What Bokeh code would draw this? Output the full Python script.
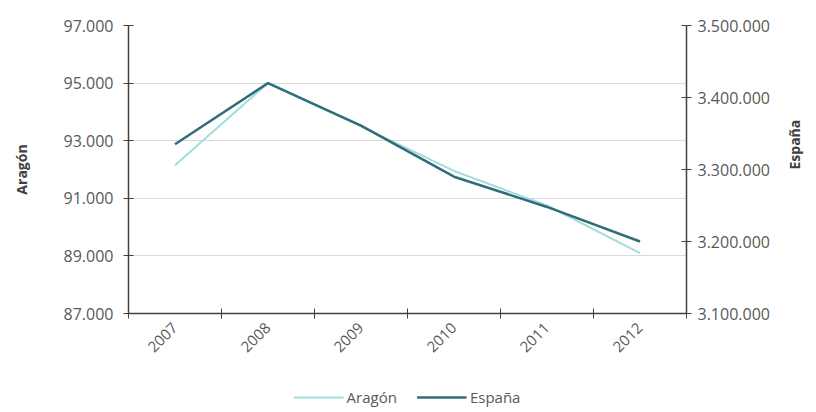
from math import pi
from bokeh.plotting import figure
from bokeh.layouts import column
from bokeh.models import Range1d, LinearAxis, FixedTicker, Legend, LegendItem
from bokeh.embed import file_html
from bokeh.resources import INLINE

years = ["2007", "2008", "2009", "2010", "2011", "2012"]
aragon = [92150, 95000, 93500, 91950, 90750, 89100]
espana = [3335000, 3420000, 3361000, 3290000, 3248000, 3200000]
left_ticks = [87000, 89000, 91000, 93000, 95000, 97000]
right_ticks = [3100000, 3200000, 3300000, 3400000, 3500000]
series_names = ["Aragón", "España"]

FONT = "Open Sans"
TXT = "#595959"
AX = "#404040"
C_AR = "#a3dcdc"
C_ES = "#2f6e78"


def es(n):
    return f"{n:,}".replace(",", ".")


xs = [i + 0.5 for i in range(len(years))]

p = figure(width=816, height=382, output_backend="svg", toolbar_location=None,
           x_range=Range1d(0, len(years)), y_range=Range1d(left_ticks[0], left_ticks[-1]),
           min_border_left=128, min_border_right=130, min_border_top=25, min_border_bottom=69,
           outline_line_color=None, background_fill_color="white", border_fill_color="white")
p.extra_y_ranges = {"esp": Range1d(right_ticks[0], right_ticks[-1])}

# grid
p.xgrid.visible = False
p.ygrid.ticker = FixedTicker(ticks=left_ticks)
p.ygrid.grid_line_color = "#d9d9d9"
p.ygrid.grid_line_width = 1

# x axis
xa = p.xaxis[0]
xa.ticker = FixedTicker(ticks=xs, minor_ticks=list(range(len(years) + 1)))
xa.major_label_overrides = {x: y for x, y in zip(xs, years)}
xa.major_tick_line_color = None
xa.minor_tick_in = 5
xa.minor_tick_out = 5
xa.minor_tick_line_color = AX
xa.axis_line_color = AX
xa.axis_line_width = 1.5
xa.major_label_orientation = pi / 4
xa.major_label_text_font = FONT
xa.major_label_text_font_size = "15px"
xa.major_label_text_color = TXT
xa.major_label_standoff = 6

# left axis
ya = p.yaxis[0]
ya.ticker = FixedTicker(ticks=left_ticks)
ya.major_label_overrides = {t: es(t) for t in left_ticks}
ya.minor_tick_line_color = None
ya.major_tick_in = 5
ya.major_tick_out = 5
ya.major_tick_line_color = AX
ya.axis_line_color = AX
ya.axis_line_width = 1.5
ya.major_label_text_font = FONT
ya.major_label_text_font_size = "16px"
ya.major_label_text_color = TXT
ya.major_label_standoff = 10
ya.axis_label = series_names[0]
ya.axis_label_text_font = FONT
ya.axis_label_text_font_style = "bold"
ya.axis_label_text_font_size = "14px"
ya.axis_label_text_color = "#404040"
ya.axis_label_standoff = 30

# right axis
ra = LinearAxis(y_range_name="esp", ticker=FixedTicker(ticks=right_ticks))
ra.major_label_overrides = {t: es(t) for t in right_ticks}
ra.minor_tick_line_color = None
ra.major_tick_in = 5
ra.major_tick_out = 5
ra.major_tick_line_color = AX
ra.axis_line_color = AX
ra.axis_line_width = 1.5
ra.major_label_text_font = FONT
ra.major_label_text_font_size = "16px"
ra.major_label_text_color = TXT
ra.major_label_standoff = 6
ra.axis_label = series_names[1]
ra.axis_label_orientation = pi / 2
ra.axis_label_text_align = "center"
ra.axis_label_text_font = FONT
ra.axis_label_text_font_style = "bold"
ra.axis_label_text_font_size = "14px"
ra.axis_label_text_color = "#404040"
ra.axis_label_standoff = 22
p.add_layout(ra, "right")

p.line(xs, aragon, line_color=C_AR, line_width=2)
p.line(xs, espana, y_range_name="esp", line_color=C_ES, line_width=2.5)

# legend strip below the chart (its renderers hold the same series, out of view)
lf = figure(width=816, height=30, output_backend="svg", toolbar_location=None,
            x_range=Range1d(0, 1), y_range=Range1d(0, 1),
            x_axis_location=None, y_axis_location=None,
            min_border=0, outline_line_color=None,
            background_fill_color="white", border_fill_color="white")
lf.xgrid.visible = False
lf.ygrid.visible = False
g1 = lf.line(xs, aragon, line_color=C_AR, line_width=2)
g2 = lf.line(xs, espana, line_color=C_ES, line_width=2.5)
legend = Legend(items=[LegendItem(label=series_names[0], renderers=[g1]),
                       LegendItem(label=series_names[1], renderers=[g2])],
                orientation="horizontal", location="center",
                border_line_color=None, background_fill_alpha=0,
                glyph_width=50, glyph_height=20, label_height=20,
                label_standoff=3, spacing=20, padding=0, margin=0,
                label_text_font=FONT, label_text_font_size="15px",
                label_text_color=TXT)
lf.add_layout(legend, "center")

layout = column(p, lf, spacing=0)
open("out.html", "w").write(file_html(layout, INLINE))
